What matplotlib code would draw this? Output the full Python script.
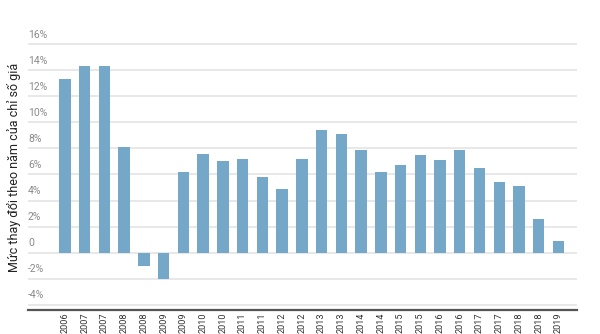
import matplotlib
matplotlib.use("Agg")
import matplotlib.pyplot as plt

# Annual change in price index (%)
years = ["2006", "2007", "2007", "2008", "2008", "2009", "2009", "2010", "2010",
         "2011", "2011", "2012", "2012", "2013", "2013", "2014", "2014", "2015",
         "2015", "2016", "2016", "2017", "2017", "2018", "2018", "2019"]
values = [13.3, 14.3, 14.3, 8.1, -1.0, -2.0, 6.2, 7.6, 7.0,
          7.2, 5.8, 4.9, 7.2, 9.4, 9.1, 7.9, 6.2, 6.7,
          7.5, 7.1, 7.9, 6.5, 5.4, 5.1, 2.6, 0.9]
y_ticks = [16, 14, 12, 10, 8, 6, 4, 2, 0, -2, -4]
y_tick_labels = ["16%", "14%", "12%", "10%", "8%", "6%", "4%", "2%", "0", "-2%", "-4%"]

plt.rcParams['font.family'] = ['Roboto', 'DejaVu Sans']

fig = plt.figure(figsize=(6, 3.34), dpi=100)
ax = fig.add_axes([0.0467, 0.0719, 0.915, 0.835])

x = list(range(len(values)))
ax.bar(x, values, width=0.58, color='#75a8c8', zorder=2)

ax.set_xlim(-1.87, 25.94)
ax.set_ylim(-4.4, 17)

for t in y_ticks:
    ax.axhline(t, color='#e6e6e6', linewidth=1.3, zorder=1)
for t, lab in zip(y_ticks, y_tick_labels):
    ax.text(0, t + 0.35, lab, transform=ax.get_yaxis_transform(),
            ha='left', va='bottom', fontsize=7.5, color='#8a8a8a')

ax.set_yticks([])
ax.set_xticks(x)
ax.set_xticklabels(years, rotation=90, fontsize=6.6, color='#333333')
ax.tick_params(axis='x', length=0, pad=2)

for side in ['top', 'right', 'left']:
    ax.spines[side].set_visible(False)
ax.spines['bottom'].set_color('#555555')
ax.spines['bottom'].set_linewidth(1.6)

fig.text(0.024, 0.5, 'Mức thay đổi theo năm của chỉ số giá', rotation=90,
         ha='center', va='center', fontsize=9, color='#222222')

fig.savefig('out.png', dpi=100)
